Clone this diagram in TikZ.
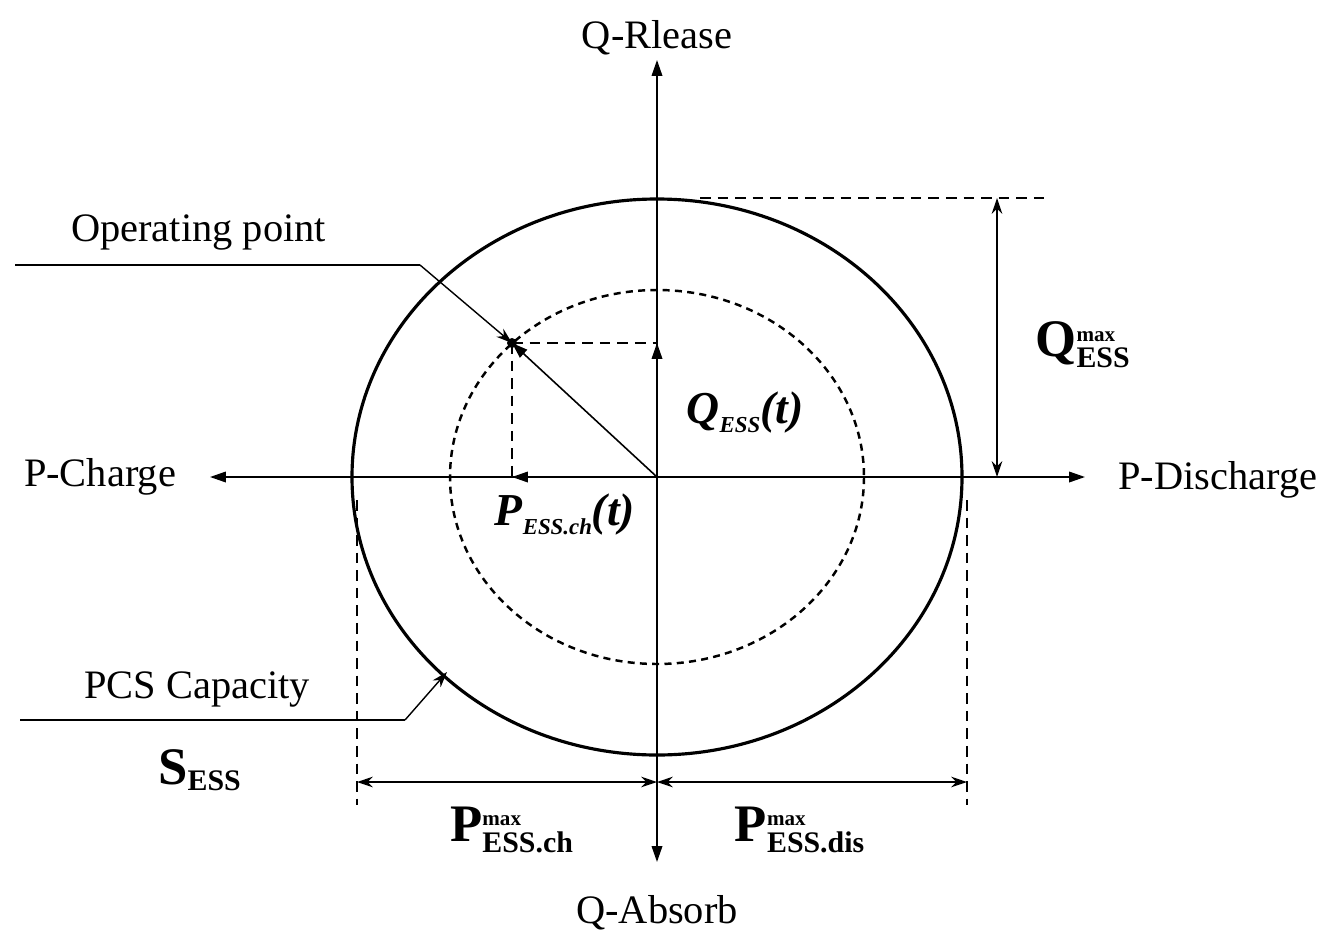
\documentclass[tikz,border=0pt]{standalone}
\usepackage{fontspec}
\setmainfont{Liberation Serif}
\usetikzlibrary{arrows.meta}
\begin{document}
\begin{tikzpicture}[x=0.02cm,y=-0.02cm,
  ax/.style={line width=0.9pt,-{Triangle[length=9pt,width=6pt]}},
  dax/.style={line width=0.9pt,{Triangle[length=9pt,width=6pt]}-{Triangle[length=9pt,width=6pt]}},
  dim/.style={line width=0.8pt,{Stealth[length=9pt,width=6pt]}-{Stealth[length=9pt,width=6pt]}},
  dsh/.style={line width=0.7pt,dash pattern=on 6pt off 4pt},
  lbl/.style={font=\fontsize{23}{25}\selectfont},
  big/.style={font=\fontsize{30}{32}\selectfont\bfseries}]
\useasboundingbox (0,0) rectangle (1342,950);
\coordinate (O) at (657,477);
\coordinate (top) at (657,60);
\coordinate (bot) at (657,862);
\coordinate (lft) at (210,477);
\coordinate (rgt) at (1085,477);
\draw[dax] (lft) -- (rgt);
\draw[dax] (bot) -- (top);
\draw[line width=1.8pt] (O) ellipse [x radius=305, y radius=278];
\draw[line width=1.4pt,dash pattern=on 4pt off 3pt] (O) ellipse [x radius=207, y radius=187];
\coordinate (op) at (512,343);
\coordinate (qp) at (657,343);
\coordinate (pp) at (512,477);
\fill (op) circle (5);
\draw[ax] (O) -- (op);
\draw[ax] (O) -- (qp);
\draw[ax] (O) -- (pp);
\draw[dsh] (op) -- (qp);
\draw[dsh] (op) -- (pp);
\node[lbl] (qr) at (657,38) {Q-Rlease};
\node[lbl] (qa) at (657,913) {Q-Absorb};
\node[lbl] (pc) at (100,477) {P-Charge};
\node[lbl] (pd) at (1218,480) {P-Discharge};
\node[font=\fontsize{26}{28}\selectfont\bfseries\itshape] (qt) at (745,413) {Q\raisebox{-5pt}{\fontsize{13}{13}\selectfont ESS}(t)};
\node[font=\fontsize{26}{28}\selectfont\bfseries\itshape] (pt) at (565,515) {P\raisebox{-5pt}{\fontsize{13}{13}\selectfont ESS.ch}(t)};
\node[lbl,anchor=south west] (opl) at (65,256) {Operating point};
\coordinate (o1) at (15,265);
\coordinate (o2) at (420,265);
\draw[line width=0.8pt] (o1) -- (o2);
\draw[line width=0.8pt,-{Stealth[length=9pt,width=6pt]}] (o2) -- (op);
\node[lbl,anchor=south west] (pcs) at (78,713) {PCS Capacity};
\coordinate (c1) at (20,720);
\coordinate (c2) at (405,720);
\coordinate (c3) at (447,672);
\draw[line width=0.8pt] (c1) -- (c2);
\draw[line width=0.8pt,-{Stealth[length=9pt,width=6pt]}] (c2) -- (c3);
\coordinate (q1) at (700,198);
\coordinate (q2) at (1045,198);
\coordinate (qa1) at (997,198);
\coordinate (qa2) at (997,477);
\draw[dsh] (q1) -- (q2);
\draw[dim] (qa1) -- (qa2);
\node[big] (qm) at (1083,345) {Q$^{\mbox{\fontsize{12}{12}\selectfont max}}_{\mbox{\fontsize{17}{17}\selectfont ESS}}$};
\coordinate (l1) at (357,500);
\coordinate (l2) at (357,805);
\coordinate (r1) at (967,500);
\coordinate (r2) at (967,805);
\draw[dsh] (l1) -- (l2);
\draw[dsh] (r1) -- (r2);
\coordinate (da) at (357,782);
\coordinate (db) at (657,782);
\coordinate (dc) at (967,782);
\draw[dim] (da) -- (db);
\draw[dim] (db) -- (dc);
\node[big] (pm1) at (512,830) {P$^{\mbox{\fontsize{12}{12}\selectfont max}}_{\mbox{\fontsize{17}{17}\selectfont ESS.ch}}$};
\node[big] (pm2) at (800,830) {P$^{\mbox{\fontsize{12}{12}\selectfont max}}_{\mbox{\fontsize{17}{17}\selectfont ESS.dis}}$};
\node[big] (se) at (200,770) {S$_{\mbox{\fontsize{17}{17}\selectfont ESS}}$};
\end{tikzpicture}
\end{document}
